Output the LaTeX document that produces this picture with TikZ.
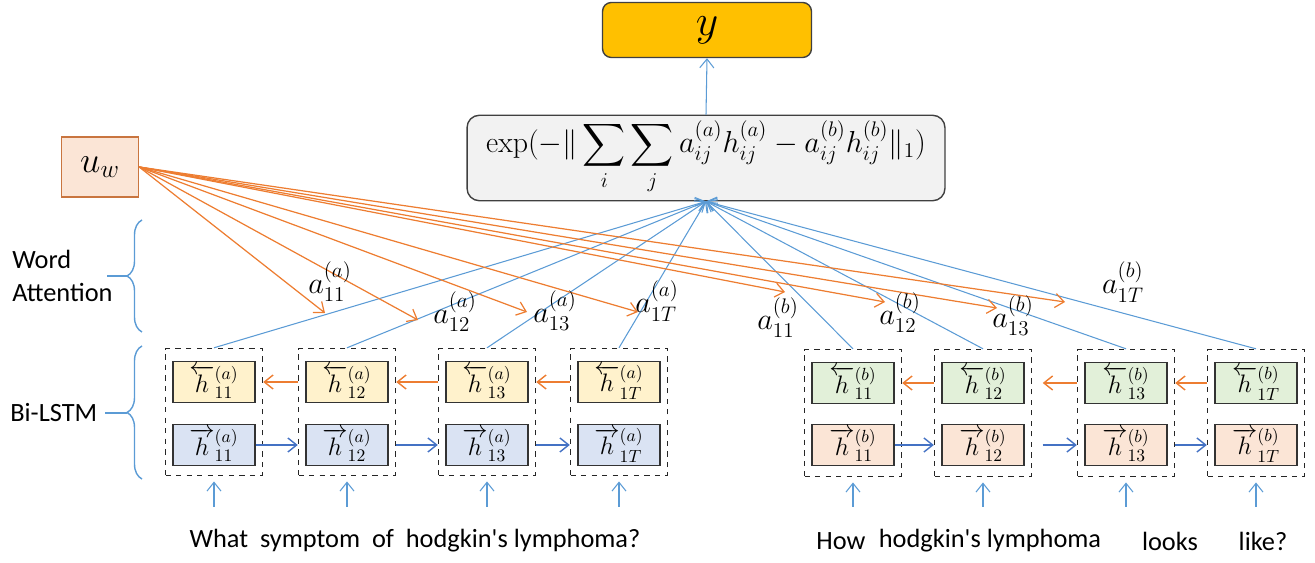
\documentclass[tikz,border=0pt]{standalone}
\usepackage{amsmath, amssymb}
\usepackage{fontspec}
\newfontfamily\calibri{Carlito}
\usetikzlibrary{positioning, arrows.meta, decorations.pathreplacing}

\definecolor{lineorange}{HTML}{ED7D31}
\definecolor{lineblue}{HTML}{5B9BD5}
\definecolor{darkblue}{HTML}{4472C4}
\definecolor{fillyellow}{HTML}{FFF2CC}
\definecolor{fillblue}{HTML}{DAE3F3}
\definecolor{fillgreen}{HTML}{E2F0D9}
\definecolor{fillpeach}{HTML}{FBE5D6}
\definecolor{fillgold}{HTML}{FFC000}
\definecolor{uwborder}{HTML}{C9753F}

\begin{document}
\begin{tikzpicture}
  [x=0.02cm, y=-0.02cm,
   cell/.style={draw=black!80, line width=0.9pt, minimum width=1.64cm, minimum height=0.82cm,
                inner sep=0pt, font=\fontsize{14}{14}\selectfont},
   col/.style={draw=black!85, dashed, line width=0.8pt, minimum width=1.94cm, minimum height=2.54cm},
   attn/.style={lineblue, line width=0.6pt},
   weight/.style={lineorange, line width=0.7pt},
   alabel/.style={font=\fontsize{18}{18}\selectfont, inner sep=0pt},
   words/.style={font=\calibri\fontsize{15}{15}\selectfont, inner sep=0pt},
   >={Straight Barb[length=5pt, width=8pt]}]
  \useasboundingbox (0,0) rectangle (1315,563);

  % top part
  \node[draw=black!75, fill=fillgold, rounded corners=5pt, line width=0.8pt,
        minimum width=4.18cm, minimum height=1.1cm, font=\fontsize{30}{30}\selectfont] (y) at (707,30) {$y$};
  \node[draw=black!75, fill=black!5, rounded corners=7pt, line width=0.8pt,
        minimum width=9.56cm, minimum height=1.66cm, font=\fontsize{17}{17}\selectfont] (exp) at (706,158)
        {$\displaystyle \exp(-\|\sum_i \sum_j a_{ij}^{(a)} h_{ij}^{(a)} - a_{ij}^{(b)} h_{ij}^{(b)} \|_1)$};
  \node[draw=uwborder, fill=fillpeach, line width=0.8pt, minimum width=1.54cm, minimum height=1.2cm,
        font=\fontsize{22}{22}\selectfont] (uw) at (100,167) {$u_w$};
  \draw[attn, ->] (exp.north) -- (y.south);

  % braces
  \node[words, anchor=west, align=left] (wordatt) at (12,276) {Word\\[4pt]Attention};
  \node[words, anchor=west] (bilstm) at (10,413) {Bi-LSTM};
  \draw[lineblue, line width=0.8pt, decorate, decoration={brace, amplitude=0.3cm}] (142,332) -- (142,220);
  \draw[lineblue, line width=0.8pt] (127,276) -- (107,276);
  \draw[lineblue, line width=0.8pt, decorate, decoration={brace, amplitude=0.3cm}] (142,479) -- (142,346);
  \draw[lineblue, line width=0.8pt] (127,413) -- (105,413);

  % question a
  \node[col] (ca1) at (214,412) {};
  \node[col] (ca2) at (347,412) {};
  \node[col] (ca3) at (487,412) {};
  \node[col] (ca4) at (619,412) {};
  \node[cell, fill=fillyellow] (ba1) at (214,382) {$\overleftarrow{h}_{11}^{(a)}$};
  \node[cell, fill=fillyellow] (ba2) at (347,382) {$\overleftarrow{h}_{12}^{(a)}$};
  \node[cell, fill=fillyellow] (ba3) at (487,382) {$\overleftarrow{h}_{13}^{(a)}$};
  \node[cell, fill=fillyellow] (ba4) at (619,382) {$\overleftarrow{h}_{1T}^{(a)}$};
  \node[cell, fill=fillblue] (fa1) at (214,445) {$\overrightarrow{h}_{11}^{(a)}$};
  \node[cell, fill=fillblue] (fa2) at (347,445) {$\overrightarrow{h}_{12}^{(a)}$};
  \node[cell, fill=fillblue] (fa3) at (487,445) {$\overrightarrow{h}_{13}^{(a)}$};
  \node[cell, fill=fillblue] (fa4) at (619,445) {$\overrightarrow{h}_{1T}^{(a)}$};

  % question b
  \node[col] (cb1) at (853,413) {};
  \node[col] (cb2) at (983,413) {};
  \node[col] (cb3) at (1126,413) {};
  \node[col] (cb4) at (1256,413) {};
  \node[cell, fill=fillgreen] (bb1) at (853,383) {$\overleftarrow{h}_{11}^{(b)}$};
  \node[cell, fill=fillgreen] (bb2) at (983,383) {$\overleftarrow{h}_{12}^{(b)}$};
  \node[cell, fill=fillgreen] (bb3) at (1126,383) {$\overleftarrow{h}_{13}^{(b)}$};
  \node[cell, fill=fillgreen] (bb4) at (1256,383) {$\overleftarrow{h}_{1T}^{(b)}$};
  \node[cell, fill=fillpeach] (fb1) at (853,445) {$\overrightarrow{h}_{11}^{(b)}$};
  \node[cell, fill=fillpeach] (fb2) at (983,445) {$\overrightarrow{h}_{12}^{(b)}$};
  \node[cell, fill=fillpeach] (fb3) at (1126,445) {$\overrightarrow{h}_{13}^{(b)}$};
  \node[cell, fill=fillpeach] (fb4) at (1256,445) {$\overrightarrow{h}_{1T}^{(b)}$};

  % recurrent arrows
  \draw[lineorange, line width=0.8pt, ->] (ca2.west |- ba2) -- (ca1.east |- ba1);
  \draw[lineorange, line width=0.8pt, ->] (ca3.west |- ba3) -- (ca2.east |- ba2);
  \draw[lineorange, line width=0.8pt, ->] (ca4.west |- ba4) -- (ca3.east |- ba3);
  \draw[darkblue, line width=0.8pt, ->] (fa1.east) -- (ca2.west |- fa2);
  \draw[darkblue, line width=0.8pt, ->] (ca2.east |- fa2) -- (ca3.west |- fa3);
  \draw[darkblue, line width=0.8pt, ->] (ca3.east |- fa3) -- (ca4.west |- fa4);
  \draw[lineorange, line width=0.8pt, ->] (cb2.west |- bb2) -- (cb1.east |- bb1);
  \draw[lineorange, line width=0.8pt, ->] (cb3.west |- bb3) -- ([xshift=6pt]cb2.east |- bb2);
  \draw[lineorange, line width=0.8pt, ->] (cb4.west |- bb4) -- (cb3.east |- bb3);
  \draw[darkblue, line width=0.8pt, ->] (fb1.east) -- (cb2.west |- fb2);
  \draw[darkblue, line width=0.8pt, ->] ([xshift=6pt]cb2.east |- fb2) -- (cb3.west |- fb3);
  \draw[darkblue, line width=0.8pt, ->] (cb3.east |- fb3) -- (cb4.west |- fb4);

  % inputs
  \coordinate (ia1) at (214,507);
  \coordinate (ia2) at (347,507);
  \coordinate (ia3) at (487,507);
  \coordinate (ia4) at (619,507);
  \coordinate (ib1) at (853,507);
  \coordinate (ib2) at (983,507);
  \coordinate (ib3) at (1126,507);
  \coordinate (ib4) at (1256,507);
  \draw[attn, ->, shorten >=3pt] (ia1) -- (ca1.south);
  \draw[attn, ->, shorten >=3pt] (ia2) -- (ca2.south);
  \draw[attn, ->, shorten >=3pt] (ia3) -- (ca3.south);
  \draw[attn, ->, shorten >=3pt] (ia4) -- (ca4.south);
  \draw[attn, ->, shorten >=3pt] (ib1) -- (cb1.south);
  \draw[attn, ->, shorten >=3pt] (ib2) -- (cb2.south);
  \draw[attn, ->, shorten >=3pt] (ib3) -- (cb3.south);
  \draw[attn, ->, shorten >=3pt] (ib4) -- (cb4.south);
  \node[words] (qa) at (415,541) {What\ \ symptom\ \ of\ \ hodgkin's lymphoma?};
  \node[words] (qb1) at (841,541) {How};
  \node[words] (qb2) at (990,541) {hodgkin's lymphoma};
  \node[words] (qb3) at (1170,541) {looks};
  \node[words] (qb4) at (1263,541) {like?};

  % hidden states to similarity
  \draw[attn, ->] (ca1.north) -- (exp.south);
  \draw[attn, ->] (ca2.north) -- (exp.south);
  \draw[attn, ->] (ca3.north) -- (exp.south);
  \draw[attn, ->] (ca4.north) -- (exp.south);
  \draw[attn, ->] (cb1.north) -- (exp.south);
  \draw[attn, ->] (cb2.north) -- (exp.south);
  \draw[attn, ->] (cb3.north) -- (exp.south);
  \draw[attn, ->] (cb4.north) -- (exp.south);

  % word attention
  \coordinate (ta1) at (325,313);
  \coordinate (ta2) at (418,320);
  \coordinate (ta3) at (527,312);
  \coordinate (ta4) at (638,312);
  \coordinate (tb1) at (785,292);
  \coordinate (tb2) at (885,302);
  \coordinate (tb3) at (997,308);
  \coordinate (tb4) at (1065,302);
  \draw[weight, ->] (uw.east) -- (ta1);
  \draw[weight, ->] (uw.east) -- (ta2);
  \draw[weight, ->] (uw.east) -- (ta3);
  \draw[weight, ->] (uw.east) -- (ta4);
  \draw[weight, ->] (uw.east) -- (tb1);
  \draw[weight, ->] (uw.east) -- (tb2);
  \draw[weight, ->] (uw.east) -- (tb3);
  \draw[weight, ->] (uw.east) -- (tb4);
  \node[alabel] (la1) at (330,282) {$a_{11}^{(a)}$};
  \node[alabel] (la2) at (455,312) {$a_{12}^{(a)}$};
  \node[alabel] (la3) at (555,311) {$a_{13}^{(a)}$};
  \node[alabel] (la4) at (657,301) {$a_{1T}^{(a)}$};
  \node[alabel] (lb1) at (778,318) {$a_{11}^{(b)}$};
  \node[alabel] (lb2) at (900,313) {$a_{12}^{(b)}$};
  \node[alabel] (lb3) at (1013,316) {$a_{13}^{(b)}$};
  \node[alabel] (lb4) at (1123,282) {$a_{1T}^{(b)}$};
\end{tikzpicture}
\end{document}
